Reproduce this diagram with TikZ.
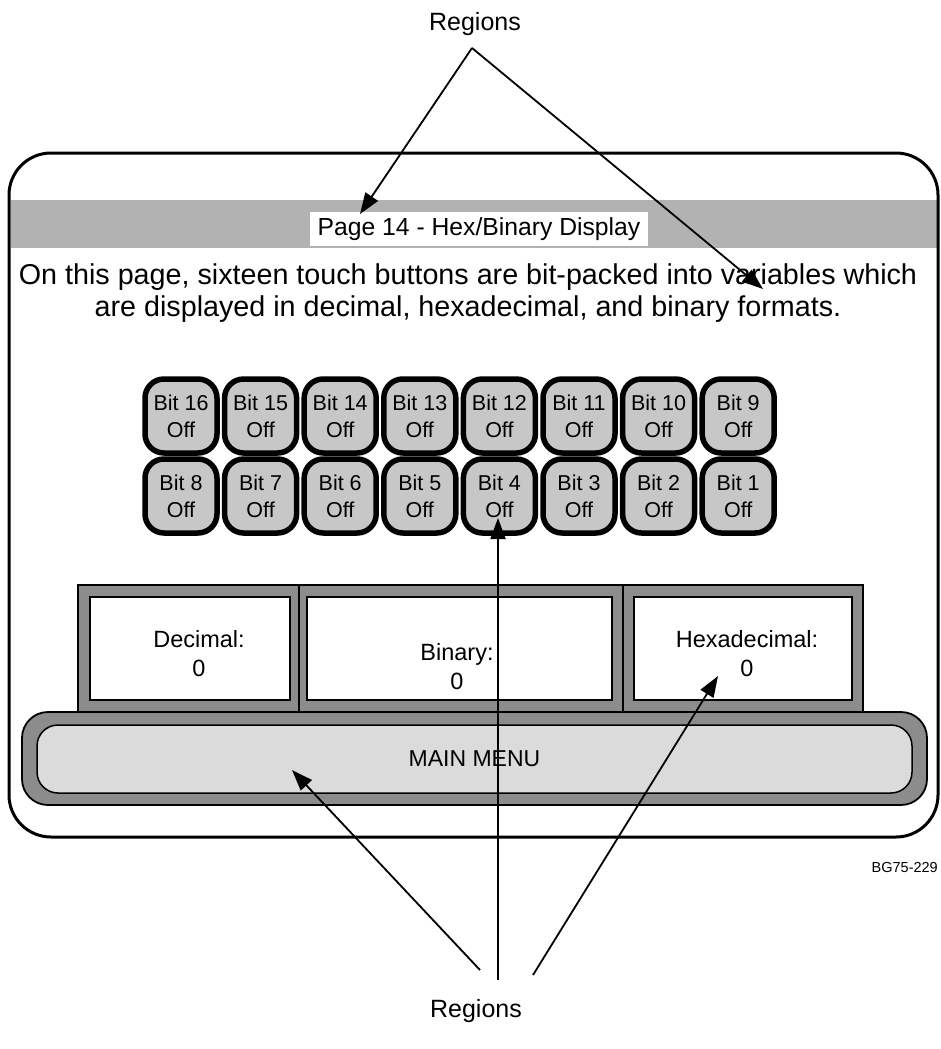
\documentclass[tikz,border=0pt]{standalone}
\usepackage{fontspec}
\setmainfont{Liberation Sans}
\usetikzlibrary{arrows.meta}

\definecolor{bandgray}{gray}{0.70}
\definecolor{btngray}{gray}{0.78}
\definecolor{panelgray}{gray}{0.55}
\definecolor{menugray}{gray}{0.86}

\tikzset{
  txt/.style={inner sep=0pt, text=black},
  bitbtn/.style={draw=black, line width=5.5pt, fill=btngray, rounded corners=19pt,
    minimum width=72pt, minimum height=74pt, align=center, inner sep=0pt,
    font=\fontsize{21.5}{27}\selectfont},
  readout/.style={draw=black, line width=1.5pt, fill=white, inner sep=0pt},
  readlabel/.style={txt, align=center, font=\fontsize{23.5}{29}\selectfont},
  pointer/.style={line width=1.8pt, -{Triangle[length=21pt,width=15pt]}},
}

\begin{document}
\begin{tikzpicture}[x=1pt,y=-1pt]
\useasboundingbox (0,0) rectangle (940,1049);

% ---- screen outline and title band ----
\fill[bandgray] (11,200) rectangle (937,248);
\draw[line width=3pt, rounded corners=42pt] (9,153) rectangle (938,837);
\node[txt, fill=white, minimum width=338pt, minimum height=34pt,
      font=\fontsize{24.7}{29}\selectfont] (title) at (479,229) {Page 14 - Hex/Binary Display};

\node[txt, align=center, font=\fontsize{28.7}{32}\selectfont] (desc) at (468,293)
  {On this page, sixteen touch buttons are bit-packed into variables which\\
   are displayed in decimal, hexadecimal, and binary formats.};

% ---- sixteen touch buttons ----
\foreach \n [count=\i from 0] in {16,15,14,13,12,11,10,9} {
  \node[bitbtn] (b\n) at ({181+79.6*\i},416) {Bit \n\\Off};
}
\foreach \n [count=\i from 0] in {8,7,6,5,4,3,2,1} {
  \node[bitbtn] (b\n) at ({181+79.6*\i},496) {Bit \n\\Off};
}

% ---- readout panel ----
\draw[line width=1.5pt, fill=panelgray] (78,585) rectangle (863,712);
\node[readout, minimum width=200pt, minimum height=103pt] (dec) at (190,648.5) {};
\node[readout, minimum width=305pt, minimum height=103pt] (bin) at (459.5,648.5) {};
\node[readout, minimum width=218pt, minimum height=103pt] (hex) at (743,648.5) {};
\draw[line width=1.2pt] (299,585) -- (299,712) (623,585) -- (623,712);
\node[readlabel] (declbl) at (199,654) {Decimal:\\0};
\node[readlabel] (binlbl) at (457,667) {Binary:\\0};
\node[readlabel] (hexlbl) at (747,654) {Hexadecimal:\\0};

% ---- main menu bar ----
\draw[line width=1.8pt, fill=panelgray, rounded corners=26pt] (22,712) rectangle (927,805);
\node[draw=black, line width=1.5pt, fill=menugray, rounded corners=21pt,
      minimum width=875pt, minimum height=68pt, inner sep=0pt,
      font=\fontsize{23}{27}\selectfont] (menu) at (474.5,759) {MAIN MENU};

% ---- figure number ----
\node[txt, anchor=base east, font=\fontsize{14.5}{17}\selectfont] (fig) at (938,872) {BG75-229};

% ---- callouts ----
\node[txt, font=\fontsize{25}{30}\selectfont] (regtop) at (475,24) {Regions};
\node[txt, font=\fontsize{25}{30}\selectfont] (regbot) at (476,1011) {Regions};

\coordinate (apex) at (472,48);
\coordinate (tipTitle) at (360,214);
\coordinate (tipText) at (763,289);
\draw[pointer] (apex) -- (tipTitle);
\draw[pointer] (apex) -- (tipText);

\coordinate (endL) at (480,970);
\coordinate (endM) at (498,980);
\coordinate (endR) at (533,975);
\coordinate (tipMenu) at (292,770);
\coordinate (tipHex) at (718,676);
\coordinate (tipBit) at (498,518);
\draw[pointer] (endL) -- (tipMenu);
\draw[pointer] (endM) -- (tipBit);
\draw[pointer] (endR) -- (tipHex);
\end{tikzpicture}
\end{document}
